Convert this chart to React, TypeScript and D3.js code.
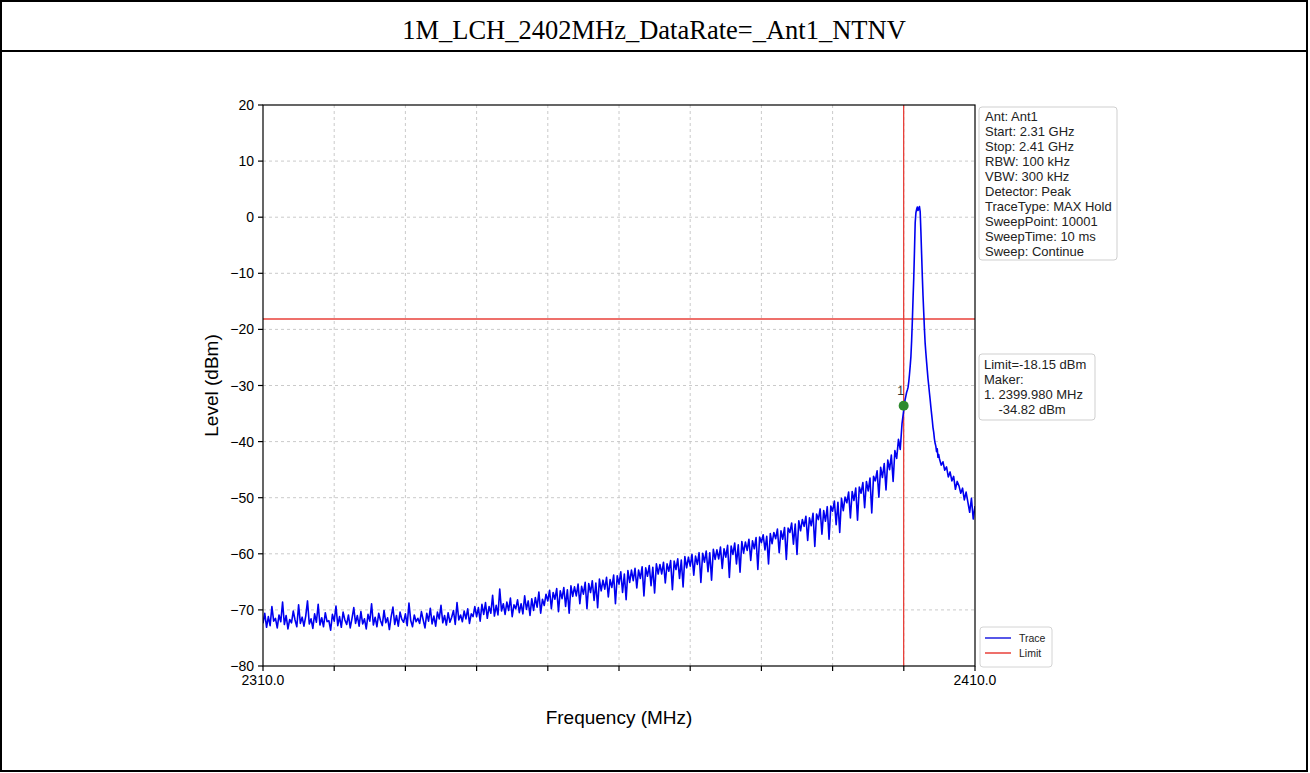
import React from "react";
import * as d3 from "d3";

const W = 1310;
const H = 773;

const titleText = "1M_LCH_2402MHz_DataRate=_Ant1_NTNV";
const xDomain: [number, number] = [2310, 2410];
const yDomain: [number, number] = [-80, 20];
const xTickValues = [2310, 2320, 2330, 2340, 2350, 2360, 2370, 2380, 2390, 2400, 2410];
const xTickLabels = ["2310.0", "", "", "", "", "", "", "", "", "", "2410.0"];
const yTickValues = [-80, -70, -60, -50, -40, -30, -20, -10, 0, 10, 20];

const limitLevel = -18.15;
const markerFreq = 2399.98;
const markerPlotLevel = -33.6;
const markerLabel = "1";

const infoLines = [
  "Ant: Ant1",
  "Start: 2.31 GHz",
  "Stop: 2.41 GHz",
  "RBW: 100 kHz",
  "VBW: 300 kHz",
  "Detector: Peak",
  "TraceType: MAX Hold",
  "SweepPoint: 10001",
  "SweepTime: 10 ms",
  "Sweep: Continue",
];
const markerLines = ["Limit=-18.15 dBm", "Maker:", "1. 2399.980 MHz", "    -34.82 dBm"];
const legendItems = [
  { label: "Trace", color: "#1f1fe0" },
  { label: "Limit", color: "#e8403a" },
];

// trace segment 1: 2310.00 .. 2399.75 MHz, step 0.25 MHz
const traceLowStart = 2310;
const traceLowStep = 0.25;
const traceLow = [
  -72.4, -70.6, -73.1, -71.2, -72.8, -69.4, -72.0, -71.5,
  -73.2, -70.9, -72.1, -68.6, -72.6, -71.0, -73.4, -71.7,
  -72.3, -70.2, -71.8, -73.0, -69.1, -72.4, -71.3, -72.9,
  -71.1, -68.4, -72.5, -71.6, -73.3, -70.7, -72.2, -69.0,
  -72.7, -71.4, -73.0, -70.5, -72.1, -71.9, -73.6, -70.8,
  -72.0, -69.3, -72.8, -71.2, -73.1, -70.4, -71.8, -72.6,
  -70.9, -73.2, -71.5, -69.6, -72.4, -71.0, -72.9, -70.3,
  -72.5, -71.6, -73.4, -70.8, -72.0, -68.9, -72.7, -71.3,
  -73.0, -70.6, -71.9, -72.8, -70.1, -72.3, -71.4, -73.5,
  -71.2, -69.5, -72.6, -71.0, -72.9, -70.4, -71.7, -72.2,
  -70.7, -72.8, -68.8, -71.9, -73.0, -70.9, -72.1, -71.5,
  -72.4, -70.3, -71.8, -73.2, -70.6, -72.0, -69.7, -72.5,
  -71.1, -72.9, -70.4, -71.6, -69.2, -72.3, -71.0, -72.7,
  -70.5, -72.2, -71.3, -70.1, -72.6, -68.7, -71.8, -70.9,
  -72.1, -70.2, -71.6, -69.8, -72.4, -70.7, -71.2, -69.4,
  -71.2, -69.6, -72.0, -69.0, -70.8, -68.7, -71.5, -69.4,
  -70.6, -67.4, -71.1, -69.2, -70.9, -66.3, -70.2, -68.9,
  -70.8, -68.6, -70.1, -67.9, -71.2, -69.1, -69.8, -68.2,
  -70.5, -68.9, -70.7, -67.5, -69.9, -68.4, -71.0, -68.0,
  -70.1, -67.8, -69.5, -66.8, -70.6, -68.1, -69.2, -67.2,
  -68.4, -66.5, -69.8, -66.9, -68.1, -66.2, -70.3, -66.6,
  -68.0, -66.0, -69.4, -66.4, -70.6, -65.7, -67.6, -65.9,
  -67.5, -65.4, -68.9, -65.8, -67.2, -65.1, -69.8, -65.3,
  -66.9, -64.8, -68.3, -65.2, -69.6, -64.5, -66.6, -64.7,
  -66.3, -64.2, -67.7, -64.6, -66.0, -63.8, -68.9, -63.9,
  -65.4, -63.2, -66.9, -63.6, -68.2, -63.0, -65.1, -62.9,
  -64.8, -62.6, -66.1, -62.9, -64.4, -62.3, -67.5, -62.5,
  -64.0, -62.1, -65.7, -62.4, -67.0, -61.8, -63.6, -61.9,
  -63.6, -61.5, -65.2, -61.8, -63.1, -61.2, -66.4, -61.3,
  -62.8, -60.9, -64.4, -61.1, -65.9, -60.5, -62.5, -60.6,
  -62.2, -60.1, -63.8, -60.4, -61.9, -59.8, -65.1, -59.9,
  -61.5, -59.5, -63.2, -59.8, -64.7, -59.2, -61.0, -59.3,
  -60.9, -58.8, -62.6, -59.1, -60.6, -58.5, -64.2, -58.6,
  -60.1, -58.1, -61.8, -58.4, -63.3, -57.8, -59.9, -57.9,
  -59.4, -57.4, -61.2, -57.7, -59.1, -57.1, -62.8, -57.0,
  -58.0, -56.6, -59.3, -56.9, -61.8, -56.4, -58.2, -56.2,
  -57.3, -55.6, -59.8, -55.9, -57.4, -55.3, -61.0, -55.4,
  -56.2, -54.5, -58.3, -54.7, -60.1, -54.1, -55.9, -53.9,
  -55.1, -53.3, -57.6, -53.6, -55.0, -52.8, -58.7, -52.9,
  -53.9, -52.0, -56.5, -52.3, -54.2, -51.6, -57.4, -51.5,
  -52.4, -50.6, -54.8, -50.8, -56.2, -50.1, -52.3, -49.9,
  -50.9, -49.0, -53.6, -48.9, -50.5, -48.3, -54.0, -48.1,
  -49.2, -47.3, -51.8, -47.1, -48.8, -46.5, -52.7, -46.2,
  -47.0, -45.2, -49.9, -44.6, -46.4, -43.9, -48.6, -43.3,
  -45.0, -42.4, -47.1, -41.6, -43.0, -39.6, -41.4, -36.8,
];

// trace segment 2: 2400.0 .. 2404.9 MHz, step 0.1 MHz (carrier)
const tracePeakStart = 2400;
const tracePeakStep = 0.1;
const tracePeak = [
  -34.3, -33.2, -32.4, -31.8, -31.2, -30.8, -30.3, -29.3, -28.0, -26.5,
  -24.8, -22.0, -18.5, -14.5, -10.8, -6.0, -1.0, 0.8, 1.4, 1.8,
  1.2, 1.6, 1.9, 1.0, -2.5, -6.5, -10.5, -14.0, -17.0, -20.0,
  -22.5, -24.2, -25.8, -27.3, -28.8, -30.0, -31.3, -32.5, -33.8, -35.0,
  -36.2, -37.5, -38.3, -39.5, -40.3, -40.8, -41.8, -41.3, -42.8, -42.3,
];

// trace segment 3: 2405.00 .. 2410.00 MHz, step 0.25 MHz
const traceHighStart = 2405;
const traceHighStep = 0.25;
const traceHigh = [
  -43.0, -44.2, -43.6, -45.1, -44.5, -46.3, -45.4, -47.0, -46.2, -48.5,
  -47.1, -47.9, -49.2, -48.3, -50.4, -49.0, -50.8, -52.6, -50.1, -53.8, -51.5,
];

const PL = 263, PR = 975, PT = 105, PB = 666;
const sans = "'Liberation Sans', Arial, Helvetica, sans-serif";
const serif = "'Liberation Serif', 'Times New Roman', Times, serif";

export default function App() {
  const x = d3.scaleLinear().domain(xDomain).range([PL, PR]);
  const y = d3.scaleLinear().domain(yDomain).range([PB, PT]);

  const pts: [number, number][] = [
    ...traceLow.map((v, i) => [traceLowStart + i * traceLowStep, v] as [number, number]),
    ...tracePeak.map((v, i) => [tracePeakStart + i * tracePeakStep, v] as [number, number]),
    ...traceHigh.map((v, i) => [traceHighStart + i * traceHighStep, v] as [number, number]),
  ];
  const line = d3.line<[number, number]>().x((d) => x(d[0])).y((d) => y(d[1]));

  const infoFs = 13;
  const lh = 15;

  return (
    <svg width={W} height={H} style={{ position: "absolute", left: 0, top: 0, background: "#fff" }}>
      <rect x={0} y={0} width={W} height={H} fill="#fff" />
      {/* frame */}
      <rect x={1} y={1} width={1306} height={770} fill="none" stroke="#000" strokeWidth={2} />
      <line x1={1} x2={1307} y1={51} y2={51} stroke="#000" strokeWidth={2} />
      <text x={654} y={39} textAnchor="middle" fontFamily={serif} fontSize={26.5} fill="#000">
        {titleText}
      </text>

      {/* grid */}
      {xTickValues.slice(1, -1).map((t) => (
        <line key={"gx" + t} x1={x(t)} x2={x(t)} y1={PT} y2={PB} stroke="#c4c4c4" strokeWidth={0.9} strokeDasharray="3,3" />
      ))}
      {yTickValues.slice(1, -1).map((t) => (
        <line key={"gy" + t} x1={PL} x2={PR} y1={y(t)} y2={y(t)} stroke="#c4c4c4" strokeWidth={0.9} strokeDasharray="3,3" />
      ))}

      <defs>
        <clipPath id="plotclip">
          <rect x={PL} y={PT} width={PR - PL} height={PB - PT} />
        </clipPath>
      </defs>

      {/* limit lines */}
      <line x1={PL} x2={PR} y1={y(limitLevel)} y2={y(limitLevel)} stroke="#e8403a" strokeWidth={1.3} />
      <line x1={x(markerFreq)} x2={x(markerFreq)} y1={PT} y2={PB} stroke="#e8403a" strokeWidth={1.3} />

      {/* trace */}
      <path d={line(pts) || ""} fill="none" stroke="#0000f0" strokeWidth={1.6} clipPath="url(#plotclip)" strokeLinejoin="round" />

      {/* marker */}
      <circle cx={x(markerFreq)} cy={y(markerPlotLevel)} r={5} fill="#2e8a2e" />
      <text x={x(markerFreq) - 3} y={y(markerPlotLevel) - 11} textAnchor="middle" fontFamily={sans} fontSize={12} fill="#333">
        {markerLabel}
      </text>

      {/* spines */}
      <rect x={PL} y={PT} width={PR - PL} height={PB - PT} fill="none" stroke="#000" strokeWidth={1.2} />

      {/* ticks */}
      {xTickValues.map((t, i) => (
        <g key={"xt" + t}>
          <line x1={x(t)} x2={x(t)} y1={PB} y2={PB + 5} stroke="#000" strokeWidth={1.2} />
          {xTickLabels[i] && (
            <text x={x(t)} y={PB + 19} textAnchor="middle" fontFamily={sans} fontSize={14} fill="#000">
              {xTickLabels[i]}
            </text>
          )}
        </g>
      ))}
      {yTickValues.map((t) => (
        <g key={"yt" + t}>
          <line x1={PL - 5} x2={PL} y1={y(t)} y2={y(t)} stroke="#000" strokeWidth={1.2} />
          <text x={PL - 9} y={y(t) + 5} textAnchor="end" fontFamily={sans} fontSize={14} fill="#000">
            {t < 0 ? "\u2212" + Math.abs(t) : String(t)}
          </text>
        </g>
      ))}

      {/* axis labels */}
      <text x={(PL + PR) / 2} y={724} textAnchor="middle" fontFamily={sans} fontSize={19} fill="#000">
        Frequency (MHz)
      </text>
      <text transform={`translate(218, ${(PT + PB) / 2}) rotate(-90)`} textAnchor="middle" fontFamily={sans} fontSize={19} fill="#000">
        Level (dBm)
      </text>

      {/* info box */}
      <rect x={979} y={107} width={138} height={153} rx={3} fill="#fff" stroke="#cfcfcf" strokeWidth={1} />
      {infoLines.map((s, i) => (
        <text key={"il" + i} x={985} y={121 + i * lh} fontFamily={sans} fontSize={infoFs} fill="#222">
          {s}
        </text>
      ))}

      {/* marker box */}
      <rect x={979} y={354} width={116} height={66} rx={3} fill="#fff" stroke="#cfcfcf" strokeWidth={1} />
      {markerLines.map((s, i) => (
        <text key={"ml" + i} x={984} y={368.5 + i * lh} fontFamily={sans} fontSize={infoFs} fill="#222" style={{ whiteSpace: "pre" }}>
          {s}
        </text>
      ))}

      {/* legend */}
      <rect x={980} y={627} width={72} height={40} rx={3} fill="#fff" stroke="#d4d4d4" strokeWidth={1} />
      {legendItems.map((it, i) => (
        <g key={"lg" + i}>
          <line x1={985} x2={1011} y1={638 + i * 15} y2={638 + i * 15} stroke={it.color} strokeWidth={1.5} />
          <text x={1019} y={642 + i * 15} fontFamily={sans} fontSize={10.5} fill="#222">
            {it.label}
          </text>
        </g>
      ))}
    </svg>
  );
}
